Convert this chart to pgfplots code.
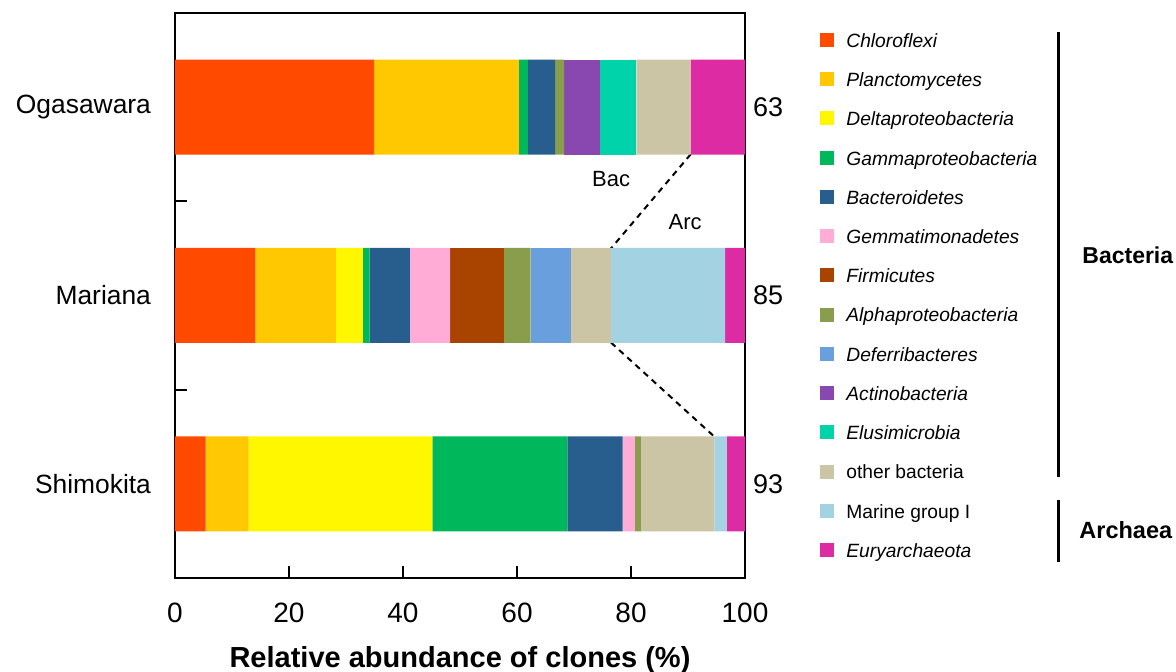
\documentclass[border=0pt]{standalone}
\usepackage{pgfplots}
\usepackage{pgfplotstable}
\pgfplotsset{compat=1.18}
\usepackage{fontspec}
\setmainfont{Liberation Sans}
\definecolor{cChl}{HTML}{FF4A00}
\definecolor{cPla}{HTML}{FFC800}
\definecolor{cDel}{HTML}{FFF700}
\definecolor{cGam}{HTML}{00B85C}
\definecolor{cBac}{HTML}{285E8E}
\definecolor{cGem}{HTML}{FFADD6}
\definecolor{cFir}{HTML}{A84300}
\definecolor{cAlp}{HTML}{889E4C}
\definecolor{cDef}{HTML}{6A9FDD}
\definecolor{cAct}{HTML}{8948AF}
\definecolor{cElu}{HTML}{00D2AA}
\definecolor{cOth}{HTML}{CCC5A5}
\definecolor{cMar}{HTML}{A3D3E2}
\definecolor{cEur}{HTML}{DD2CA3}
\pgfplotstableread{
site Chl Pla Del Gam Bac Gem Fir Alp Def Act Elu Oth Mar Eur
0 5.38 7.53 32.26 23.66 9.68 2.15 0 1.08 0 0 0 12.90 2.15 3.21
1 14.12 14.12 4.71 1.18 7.06 7.06 9.41 4.71 7.06 0 0 7.06 20.00 3.51
2 34.92 25.40 0 1.59 4.76 0 0 1.59 0 6.35 6.35 9.52 0 9.52
}\data
\begin{document}
\begin{tikzpicture}
\begin{axis}[
  at={(0,0)}, anchor=south west,
  scale only axis, width=285pt, height=282.5pt,
  xmin=0, xmax=100, ymin=-0.5, ymax=2.5,
  xbar stacked, bar width=47.5pt,
  axis line style={line width=1pt},
  every tick/.style={line width=1pt, black},
  tick align=inside,
  xtick pos=lower, ytick pos=left,
  xtick={0,20,40,60,80,100},
  xticklabels={0,20,40,60,80,100},
  major tick length=6pt,
  xticklabel style={font=\fontsize{14}{16}\selectfont, yshift=-9pt},
  ytick={0,1,2},
  yticklabels={Shimokita,Mariana,Ogasawara},
  ytick style={draw=none},
  yticklabel style={font=\fontsize{13.2}{15}\selectfont, xshift=-8.5pt},
  extra y ticks={0.5,1.5},
  extra y tick labels={},
  extra y tick style={ytick style={draw=black, line width=1pt}},
  xlabel={\textbf{Relative abundance of clones (\%)}},
  xlabel style={font=\fontsize{14.5}{16}\selectfont, at={(axis description cs:0.5,0)}, anchor=base, yshift=-45pt},
  legend image code/.code={\fill[#1] (0pt,-2.3pt) rectangle (7pt,4.7pt);},
  legend cell align=left,
  legend style={draw=none, fill=none, inner sep=0pt,
    at={(rel axis cs:1.1316,0.9655)}, anchor=north west,
    font=\fontsize{9.6}{11}\selectfont,
    row sep=10.42pt, column sep=6pt,
    nodes={inner sep=0pt, text height=7pt, text depth=2pt}},
  clip=false,
]
\addplot[fill=cChl, draw=none] table[x=Chl, y=site]{\data};
\addlegendentry{\textit{Chloroflexi}}
\addplot[fill=cPla, draw=none] table[x=Pla, y=site]{\data};
\addlegendentry{\textit{Planctomycetes}}
\addplot[fill=cDel, draw=none] table[x=Del, y=site]{\data};
\addlegendentry{\textit{Deltaproteobacteria}}
\addplot[fill=cGam, draw=none] table[x=Gam, y=site]{\data};
\addlegendentry{\textit{Gammaproteobacteria}}
\addplot[fill=cBac, draw=none] table[x=Bac, y=site]{\data};
\addlegendentry{\textit{Bacteroidetes}}
\addplot[fill=cGem, draw=none] table[x=Gem, y=site]{\data};
\addlegendentry{\textit{Gemmatimonadetes}}
\addplot[fill=cFir, draw=none] table[x=Fir, y=site]{\data};
\addlegendentry{\textit{Firmicutes}}
\addplot[fill=cAlp, draw=none] table[x=Alp, y=site]{\data};
\addlegendentry{\textit{Alphaproteobacteria}}
\addplot[fill=cDef, draw=none] table[x=Def, y=site]{\data};
\addlegendentry{\textit{Deferribacteres}}
\addplot[fill=cAct, draw=none] table[x=Act, y=site]{\data};
\addlegendentry{\textit{Actinobacteria}}
\addplot[fill=cElu, draw=none] table[x=Elu, y=site]{\data};
\addlegendentry{\textit{Elusimicrobia}}
\addplot[fill=cOth, draw=none] table[x=Oth, y=site]{\data};
\addlegendentry{other bacteria}
\addplot[fill=cMar, draw=none] table[x=Mar, y=site]{\data};
\addlegendentry{Marine group I}
\addplot[fill=cEur, draw=none] table[x=Eur, y=site]{\data};
\addlegendentry{\textit{Euryarchaeota}}
\draw[line width=1pt, dash pattern=on 3pt off 2.5pt] (axis cs:90.48,1.75) -- (axis cs:76.49,1.25);
\draw[line width=1pt, dash pattern=on 3pt off 2.5pt] (axis cs:76.49,0.75) -- (axis cs:94.64,0.25);
\node[font=\fontsize{11}{13}\selectfont] at (axis cs:76.5,1.619) {Bac};
\node[font=\fontsize{11}{13}\selectfont] at (axis cs:89.5,1.390) {Arc};
\node[font=\fontsize{13.5}{15}\selectfont, anchor=west, xshift=0.5pt] at (axis cs:100,2) {63};
\node[font=\fontsize{13.5}{15}\selectfont, anchor=west, xshift=0.5pt] at (axis cs:100,1) {85};
\node[font=\fontsize{13.5}{15}\selectfont, anchor=west, xshift=0.5pt] at (axis cs:100,0) {93};
\end{axis}
\draw[line width=1.5pt] (441.5pt,273pt) -- (441.5pt,50.5pt);
\draw[line width=1.5pt] (441.5pt,39pt) -- (441.5pt,8pt);
\node[font=\bfseries\fontsize{11.5}{13}\selectfont, anchor=west, inner sep=0pt] at (453.5pt,161.5pt) {Bacteria};
\node[font=\bfseries\fontsize{11.75}{13}\selectfont, anchor=west, inner sep=0pt] at (452pt,24pt) {Archaea};
\pgfresetboundingbox
\path[use as bounding box] (-87.5pt,-47pt) rectangle (500.5pt,289pt);
\end{tikzpicture}
\end{document}
